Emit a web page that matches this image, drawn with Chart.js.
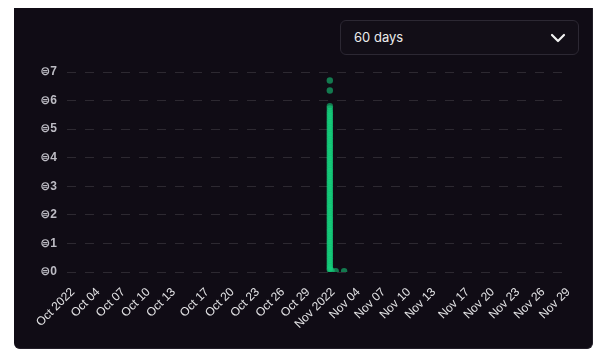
<!DOCTYPE html>
<html>
<head>
<meta charset="utf-8">
<script src="https://cdn.jsdelivr.net/npm/chart.js@4.4.0/dist/chart.umd.min.js"></script>
<style>
  html, body { margin: 0; padding: 0; background: #ffffff; width: 611px; height: 357px; overflow: hidden; }
  #panel { position: absolute; left: 14px; top: 8px; width: 578px; height: 340px; background: #100c15; border: 1px solid #221e28; border-top: none; border-left: none; border-radius: 0 0 6px 6px; }
  #c { position: absolute; left: 0; top: 0; }
  #dd { position: absolute; left: 340px; top: 20px; width: 237px; height: 33px; border: 1px solid #2c2833; border-radius: 6px; background: #120e17; z-index: 2; }
  #dd span { position: absolute; left: 13px; top: 8px; font-family: Inter, "Noto Sans", sans-serif; font-size: 13px; color: #ececec; }
  #dd svg { position: absolute; right: 12px; top: 11px; }
</style>
</head>
<body>
<div id="panel"></div>
<canvas id="c" width="611" height="357"></canvas>
<div id="dd"><span>60 days</span>
<svg width="16" height="12" viewBox="0 0 16 12"><polyline points="2,3 8,9 14,3" fill="none" stroke="#f2f2f2" stroke-width="2.2" stroke-linecap="round" stroke-linejoin="round"/></svg>
</div>
<script>
// days since Oct 1 2022
const tickDays = [0,3,6,9,12,16,19,22,25,28,31,34,37,40,43,47,50,53,56,59];
const tickLabels = ['Oct 2022','Oct 04','Oct 07','Oct 10','Oct 13','Oct 17','Oct 20','Oct 23','Oct 26','Oct 29',
                    'Nov 2022','Nov 04','Nov 07','Nov 10','Nov 13','Nov 17','Nov 20','Nov 23','Nov 26','Nov 29'];
const yTicks = [0,1,2,3,4,5,6,7];

const pointY = [6.70,6.35,5.80,5.72,5.64,5.58,5.52,5.46,5.40,5.34,5.28,5.22,5.16,5.10,5.04,4.98,4.92,4.86,4.80,4.74,
                4.68,4.62,4.56,4.50,4.44,4.38,4.32,4.26,4.20,4.14,4.08,4.02,3.96,3.90,3.84,3.78,3.72,3.66,3.60,3.54,
                3.48,3.42,3.36,3.30,3.24,3.18,3.12,3.06,3.00,2.94,2.88,2.82,2.76,2.70,2.64,2.58,2.52,2.46,2.40,2.34,
                2.28,2.22,2.16,2.10,2.04,1.98,1.92,1.86,1.80,1.74,1.68,1.62,1.56,1.50,1.44,1.38,1.32,1.26,1.20,1.14,
                1.08,1.02,0.96,0.90,0.84,0.78,0.72,0.66,0.60,0.54,0.48,0.42,0.36,0.30,0.24,0.18,0.12,0.08,0.05,0.03,0.03];
const pointX = [30.6,30.6,30.6,30.6,30.6,30.6,30.6,30.6,30.6,30.6,30.6,30.6,30.6,30.6,30.6,30.6,30.6,30.6,30.6,30.6,
                30.6,30.6,30.6,30.6,30.6,30.6,30.6,30.6,30.6,30.6,30.6,30.6,30.6,30.6,30.6,30.6,30.6,30.6,30.6,30.6,
                30.6,30.6,30.6,30.6,30.6,30.6,30.6,30.6,30.6,30.6,30.6,30.6,30.6,30.6,30.6,30.6,30.6,30.6,30.6,30.6,
                30.6,30.6,30.6,30.6,30.6,30.6,30.6,30.6,30.6,30.6,30.6,30.6,30.6,30.6,30.6,30.6,30.6,30.6,30.6,30.6,
                30.6,30.6,30.6,30.6,30.6,30.6,30.6,30.6,30.6,30.6,30.6,30.6,30.6,30.6,30.6,30.6,30.6,30.6,30.8,31.3,32.3];

const data = pointX.map((x, i) => ({ x: x, y: pointY[i] }));

new Chart(document.getElementById('c'), {
  type: 'scatter',
  data: { datasets: [{
    data: data,
    backgroundColor: 'rgba(22,214,128,0.55)',
    borderColor: 'rgba(22,214,128,0)',
    borderWidth: 0,
    pointRadius: 3.2,
    pointHoverRadius: 3.2
  }]},
  options: {
    responsive: false,
    animation: false,
    devicePixelRatio: 1,
    layout: { padding: { left: 0, right: 41, top: 72, bottom: 0 } },
    plugins: { legend: { display: false }, tooltip: { enabled: false } },
    scales: {
      x: {
        type: 'linear',
        min: -0.7,
        max: 59.2,
        grid: { display: false },
        border: { display: false },
        afterBuildTicks: (s) => { s.ticks = tickDays.map(v => ({ value: v })); },
        afterFit: (s) => { s.height = 85; },
        ticks: {
          autoSkip: false,
          maxRotation: 45,
          minRotation: 45,
          padding: 5,
          color: '#e2e2e4',
          font: { family: 'Arial, "Liberation Sans", sans-serif', size: 12 },
          callback: (v) => { const i = tickDays.indexOf(v); return i >= 0 ? tickLabels[i] : ''; }
        }
      },
      y: {
        min: 0,
        max: 7,
        afterBuildTicks: (s) => { s.ticks = yTicks.map(v => ({ value: v })); },
        afterFit: (s) => { s.width = 67; },
        border: { display: false, dash: [9, 9] },
        grid: { color: 'rgba(255,255,255,0.12)', drawTicks: false, lineWidth: 1 },
        ticks: {
          padding: 10,
          color: '#bdbcc4',
          font: { family: 'Arial, "DejaVu Sans", sans-serif', size: 12, weight: 'bold' },
          callback: (v) => '\u229C' + v
        }
      }
    }
  }
});
</script>
</body>
</html>
